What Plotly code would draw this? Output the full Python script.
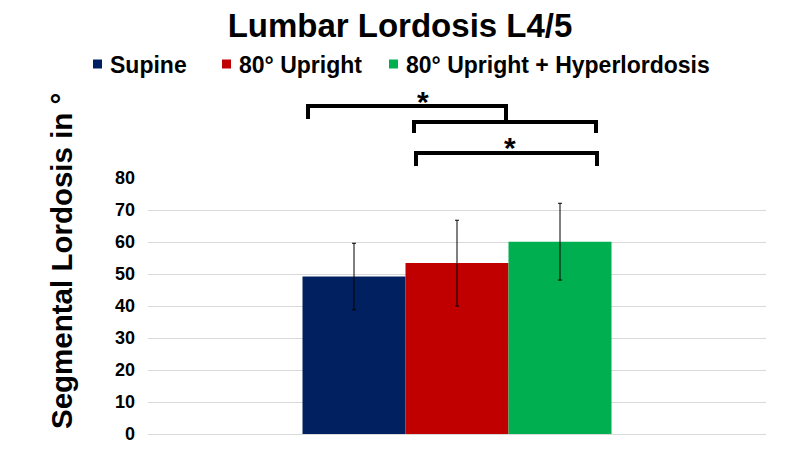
import plotly.graph_objects as go

# ---- data ----
category = ["L4/5"]
series_names = ["Supine", "80° Upright", "80° Upright + Hyperlordosis"]
means = [49.2, 53.4, 60.1]
sds = [10.4, 13.4, 12.0]
colors = ["#002060", "#C00000", "#00B050"]
y_ticks = [0, 10, 20, 30, 40, 50, 60, 70, 80]

FONT = "Liberation Sans, Arial, sans-serif"

# plot area in pixels (for decoration placement)
W, H = 800, 450
L, R, T, B = 148, 34, 178, 16
PW, PH = W - L - R, H - T - B


def px(x):
    return (x - L) / PW


def py(y):
    return (H - B - y) / PH


fig = go.Figure()
for name, m, s, c in zip(series_names, means, sds, colors):
    fig.add_trace(go.Bar(
        x=category, y=[m], name=name, marker_color=c, marker_line_width=0,
        error_y=dict(type="data", array=[s], visible=True, color="#000000",
                     thickness=1, width=2),
    ))

shapes = []
annotations = []

# legend drawn by hand (horizontal row above the plot)
legend_marker_x = [93, 222, 389]
legend_y = 64
for name, c, mx in zip(series_names, colors, legend_marker_x):
    shapes.append(dict(type="rect", xref="paper", yref="paper",
                       x0=px(mx), x1=px(mx + 9), y0=py(legend_y + 4.5),
                       y1=py(legend_y - 4.5), fillcolor=c, line_width=0))
    annotations.append(dict(text=name, x=px(mx + 15), y=py(legend_y + 1),
                            xref="paper", yref="paper", showarrow=False,
                            xanchor="left", yanchor="middle",
                            font=dict(family=FONT, size=23, color="#000000",
                                      weight="bold")))

# significance brackets
brackets = [
    [(308, 119), (308, 106), (506, 106), (506, 122)],
    [(414, 133), (414, 122), (596, 122), (596, 133)],
    [(416, 166), (416, 153), (597, 153), (597, 166)],
]
for pts in brackets:
    path = "M " + " L ".join(f"{px(x):.5f},{py(y):.5f}" for x, y in pts)
    shapes.append(dict(type="path", path=path, xref="paper", yref="paper",
                       line=dict(color="#000000", width=4)))

stars = [(423, 101), (510, 147)]
for x, y in stars:
    annotations.append(dict(
        text="*", x=px(x), y=py(y), xref="paper", yref="paper",
        showarrow=False, xanchor="center", yanchor="middle",
        font=dict(family=FONT, size=30, color="#000000", weight="bold")))

annotations.append(dict(
    text="Segmental Lordosis in °", x=px(61), y=py(261), xref="paper",
    yref="paper", showarrow=False, textangle=-90, xanchor="center",
    yanchor="middle",
    font=dict(family=FONT, size=29.5, color="#000000", weight="bold")))

fig.update_layout(
    width=W, height=H,
    margin=dict(l=L, r=R, t=T, b=B, autoexpand=False),
    paper_bgcolor="white", plot_bgcolor="white",
    barmode="group", bargap=0.5, bargroupgap=0,
    showlegend=False,
    title=dict(text="Lumbar Lordosis L4/5", x=0.5, xanchor="center",
               y=1 - 25 / H, yanchor="middle",
               font=dict(family=FONT, size=33, color="#000000", weight="bold")),
    xaxis=dict(showticklabels=False, showgrid=False, showline=False,
               zeroline=False, ticks=""),
    yaxis=dict(range=[0, 80], tickvals=y_ticks, showgrid=True,
               gridcolor="#d9d9d9", gridwidth=1, zeroline=True,
               zerolinecolor="#d9d9d9", zerolinewidth=1, showline=False,
               ticks="", ticklabelstandoff=12,
               tickfont=dict(family=FONT, size=18, color="#000000", weight="bold")),
    shapes=shapes,
    annotations=annotations,
)

fig.write_html("out.html",
               config={"displayModeBar": False},
               post_script="document.body.style.margin='0';"
                           "document.body.style.overflow='hidden';")
